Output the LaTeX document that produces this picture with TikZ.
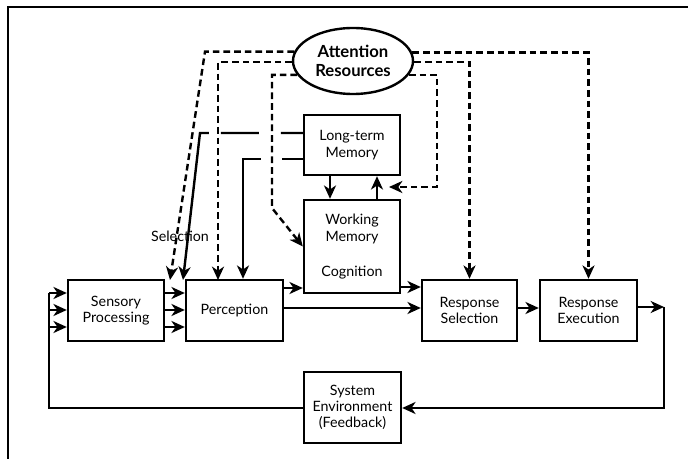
\documentclass[tikz,border=0pt]{standalone}
\usepackage{fontspec}
\setmainfont{Lato}
\usetikzlibrary{arrows.meta,shapes.geometric}
\begin{document}
\begin{tikzpicture}[x=0.75pt,y=-0.75pt,
  box/.style={draw,line width=1.8pt,inner sep=0pt,align=center,font=\fontsize{10.7}{12.2}\selectfont},
  tip/.style={-{Stealth[length=10pt,width=9pt,inset=3pt]}},
  ln/.style={line width=1.8pt},
  arr/.style={ln,tip},
  att/.style={line width=1.8pt,dash pattern=on 5pt off 3pt},
  atta/.style={att,tip}]
\useasboundingbox (0,0) rectangle (688,459);
% frame
\draw[line width=1.8pt] (8,459) -- (8,7) -- (688,7);

% nodes
\node[draw,ellipse,line width=1.8pt,inner sep=0pt,minimum width=90pt,minimum height=49.5pt,align=center,
  font=\fontsize{12.5}{14.5}\selectfont\bfseries] (att) at (353,61) {Attention\\Resources};
\node[box,minimum width=72pt,minimum height=45.75pt] (sens) at (116,310.5) {Sensory\\Processing};
\node[box,minimum width=72.75pt,minimum height=45.75pt] (perc) at (234.5,310.5) {Perception};
\node[box,minimum width=71.25pt,minimum height=45.75pt] (rsel) at (469.5,310.5) {Response\\Selection};
\node[box,minimum width=72.75pt,minimum height=45.75pt] (exec) at (588.5,310.5) {Response\\Execution};
\node[box,minimum width=72pt,minimum height=45pt] (ltm) at (352,145) {Long-term\\Memory};
\node[box,minimum width=72pt,minimum height=69.75pt] (wm) at (352,246.5) {Working\\Memory\\[14pt]Cognition};
\node[box,minimum width=72.75pt,minimum height=53.25pt] (env) at (352.5,407.5) {System\\Environment\\(Feedback)};
\node[font=\fontsize{10.7}{12.2}\selectfont] (sel) at (180,236) {Selection};

% helper coordinates
\coordinate (y287) at (0,287);
\coordinate (y288) at (0,288);
\coordinate (y308) at (0,308);
\coordinate (L1) at (49,293);
\coordinate (L2) at (49,310);
\coordinate (L3) at (49,327);
\coordinate (fb1) at (664,307);
\coordinate (fb2) at (664,408);
\coordinate (fb3) at (49,408);
\coordinate (x330) at (330,0);
\coordinate (x377) at (377,0);
\coordinate (s1) at (200,133);
\coordinate (s1t) at (183,280);
\coordinate (s2) at (243,159);
\coordinate (ca) at (205,52);
\coordinate (cat) at (170,280);
\coordinate (pb) at (218,280);
\coordinate (cc) at (272,208);
\coordinate (cf1) at (437,187);
\coordinate (cf2) at (389,187);

% main flow
\draw[arr] (sens.east |- L1) -- (perc.west |- L1);
\draw[arr] (sens.east |- L2) -- (perc.west |- L2);
\draw[arr] (sens.east |- L3) -- (perc.west |- L3);
\draw[arr] (perc.east |- y288) -- (wm.west |- y288);
\draw[arr] (perc.east |- y308) -- (rsel.west |- y308);
\draw[arr] (wm.east |- y287) -- (rsel.west |- y287);
\draw[arr] (rsel.east |- y308) -- (exec.west |- y308);
\draw[arr] (ltm.south -| x330) -- (wm.north -| x330);
\draw[arr] (wm.north -| x377) -- (ltm.south -| x377);

% feedback loop
\draw[arr] (exec.east |- fb1) -- (fb1);
\draw[arr] (fb1) -- (fb2) -- (env.east |- fb2);
\draw[ln] (env.west |- fb2) -- (fb3) -- (L1);
\draw[arr] (L1) -- (sens.west |- L1);
\draw[arr] (L2) -- (sens.west |- L2);
\draw[arr] (L3) -- (sens.west |- L3);

% long-term memory retrieval lines
\draw[arr,dash pattern=on 16.5pt off 16.5pt on 28.5pt off 9pt on 300pt off 1pt]
  (ltm.west |- s1) -- (s1) -- (s1t);
\draw[arr,dash pattern=on 15.75pt off 15.75pt on 300pt off 1pt]
  (ltm.west |- s2) -- (s2) -- (perc.north -| s2);

% attention lines
\draw[atta] (att.171) -- (att.171 -| ca) -- (cat);
\draw[atta] (att.181) -| (pb);
\draw[atta] (att.194.5) -| (cc) -- (wm.west);
\draw[atta] (att.8.9) -| (exec.north);
\draw[atta] (att.-1) -| (rsel.north);
\draw[atta] (att.-14.5) -| (cf1) -- (cf2);
\end{tikzpicture}
\end{document}
